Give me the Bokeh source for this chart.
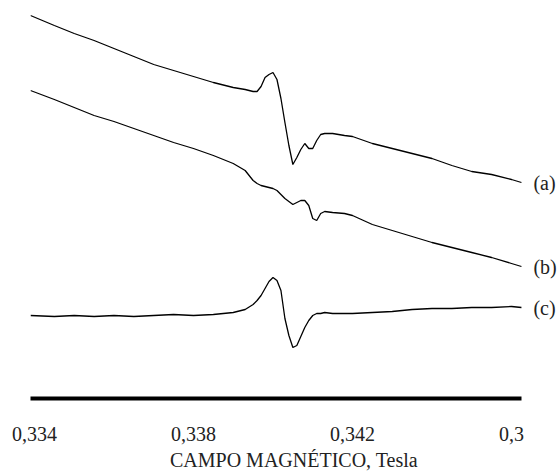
from bokeh.plotting import figure
from bokeh.models import Range1d, LinearAxis, FixedTicker, Label, ColumnDataSource
from bokeh.embed import file_html
from bokeh.resources import INLINE

# Magnetic field (Tesla) sampling grid
field = [0.3339, 0.3345, 0.3350, 0.3355, 0.3360, 0.3365, 0.3370, 0.3375, 0.3380, 0.3385,
         0.3390, 0.3393, 0.3395, 0.3396, 0.3397, 0.3398, 0.3399, 0.3400, 0.3401, 0.3402,
         0.3403, 0.3404, 0.3405, 0.3406, 0.3407, 0.3408, 0.3409, 0.3410, 0.3411, 0.3412,
         0.3413, 0.3415, 0.3418, 0.3420, 0.3425, 0.3430, 0.3435, 0.3440, 0.3445, 0.3450,
         0.3455, 0.3460, 0.34625]

# EPR signal intensities (arbitrary units, vertically offset spectra)
spec_a = [385, 375, 367, 360, 352, 344, 336, 330, 324, 318,
          313, 311, 309, 309, 314, 323, 326, 328, 321, 302,
          278, 255, 236, 243, 251, 257, 252, 252, 260, 266,
          267, 267, 265, 264, 257, 252, 247, 242, 235, 229,
          226, 221, 218]
spec_b = [310, 301, 293, 285, 279, 272, 265, 258, 252, 245,
          237, 230, 220, 217, 215, 214, 213, 212, 210, 206,
          202, 199, 196, 198, 200, 200, 195, 182, 180, 187,
          189, 188, 187, 185, 176, 170, 164, 158, 153, 148,
          143, 137, 134]
spec_c = [85, 84, 85, 84, 85, 84, 85, 86, 85, 86,
          88, 91, 96, 100, 105, 112, 119, 123, 120, 110,
          82, 65, 53, 55, 64, 73, 80, 85, 87, 87,
          88, 87, 87, 87, 88, 89, 91, 92, 92, 93,
          93, 94, 93]

tick_values = [0.334, 0.338, 0.342, 0.346]
tick_labels = ["0,334", "0,338", "0,342", "0,3"]
curve_names = ["(a)", "(b)", "(c)"]

FONT = "Liberation Serif"
x_start, x_end = 0.3339, 0.34625   # extent of the recorded sweep / axis line

p = figure(width=557, height=473, output_backend="svg", toolbar_location=None,
           x_range=Range1d(x_start, 0.347157), y_range=Range1d(2, 400),
           x_axis_type=None, y_axis_type=None,
           min_border_left=30, min_border_right=0, min_border_top=0, min_border_bottom=75)
p.outline_line_color = None
p.xgrid.visible = False
p.ygrid.visible = False
p.background_fill_color = "white"
p.border_fill_color = "white"

xaxis = LinearAxis(ticker=FixedTicker(ticks=tick_values), bounds=(x_start, x_end),
                   major_label_overrides={v: l for v, l in zip(tick_values, tick_labels)})
xaxis.axis_line_width = 4
xaxis.axis_line_color = "black"
xaxis.major_tick_line_color = None
xaxis.minor_tick_line_color = None
xaxis.major_tick_out = 0
xaxis.major_tick_in = 0
xaxis.minor_tick_out = 0
xaxis.minor_tick_in = 0
xaxis.major_label_standoff = 28
xaxis.major_label_text_font = FONT
xaxis.major_label_text_font_size = "20px"
xaxis.major_label_text_color = "#222222"
xaxis.axis_label = "CAMPO MAGNÉTICO, Tesla"
xaxis.axis_label_text_font = FONT
xaxis.axis_label_text_font_size = "20px"
xaxis.axis_label_text_font_style = "normal"
xaxis.axis_label_text_color = "#222222"
xaxis.axis_label_standoff = 5
p.add_layout(xaxis, "below")

for spec in (spec_a, spec_b, spec_c):
    src = ColumnDataSource(dict(x=field, y=spec))
    p.line("x", "y", source=src, line_color="black", line_width=1.3)

ends = [spec_a[-1], spec_b[-1], spec_c[-1]]
for name, yv in zip(curve_names, ends):
    p.add_layout(Label(x=field[-1], y=yv, text=name, x_offset=12,
                       text_font=FONT, text_font_size="20px", text_color="#222222",
                       text_baseline="middle", text_align="left"))

open("out.html", "w").write(file_html(p, INLINE))
